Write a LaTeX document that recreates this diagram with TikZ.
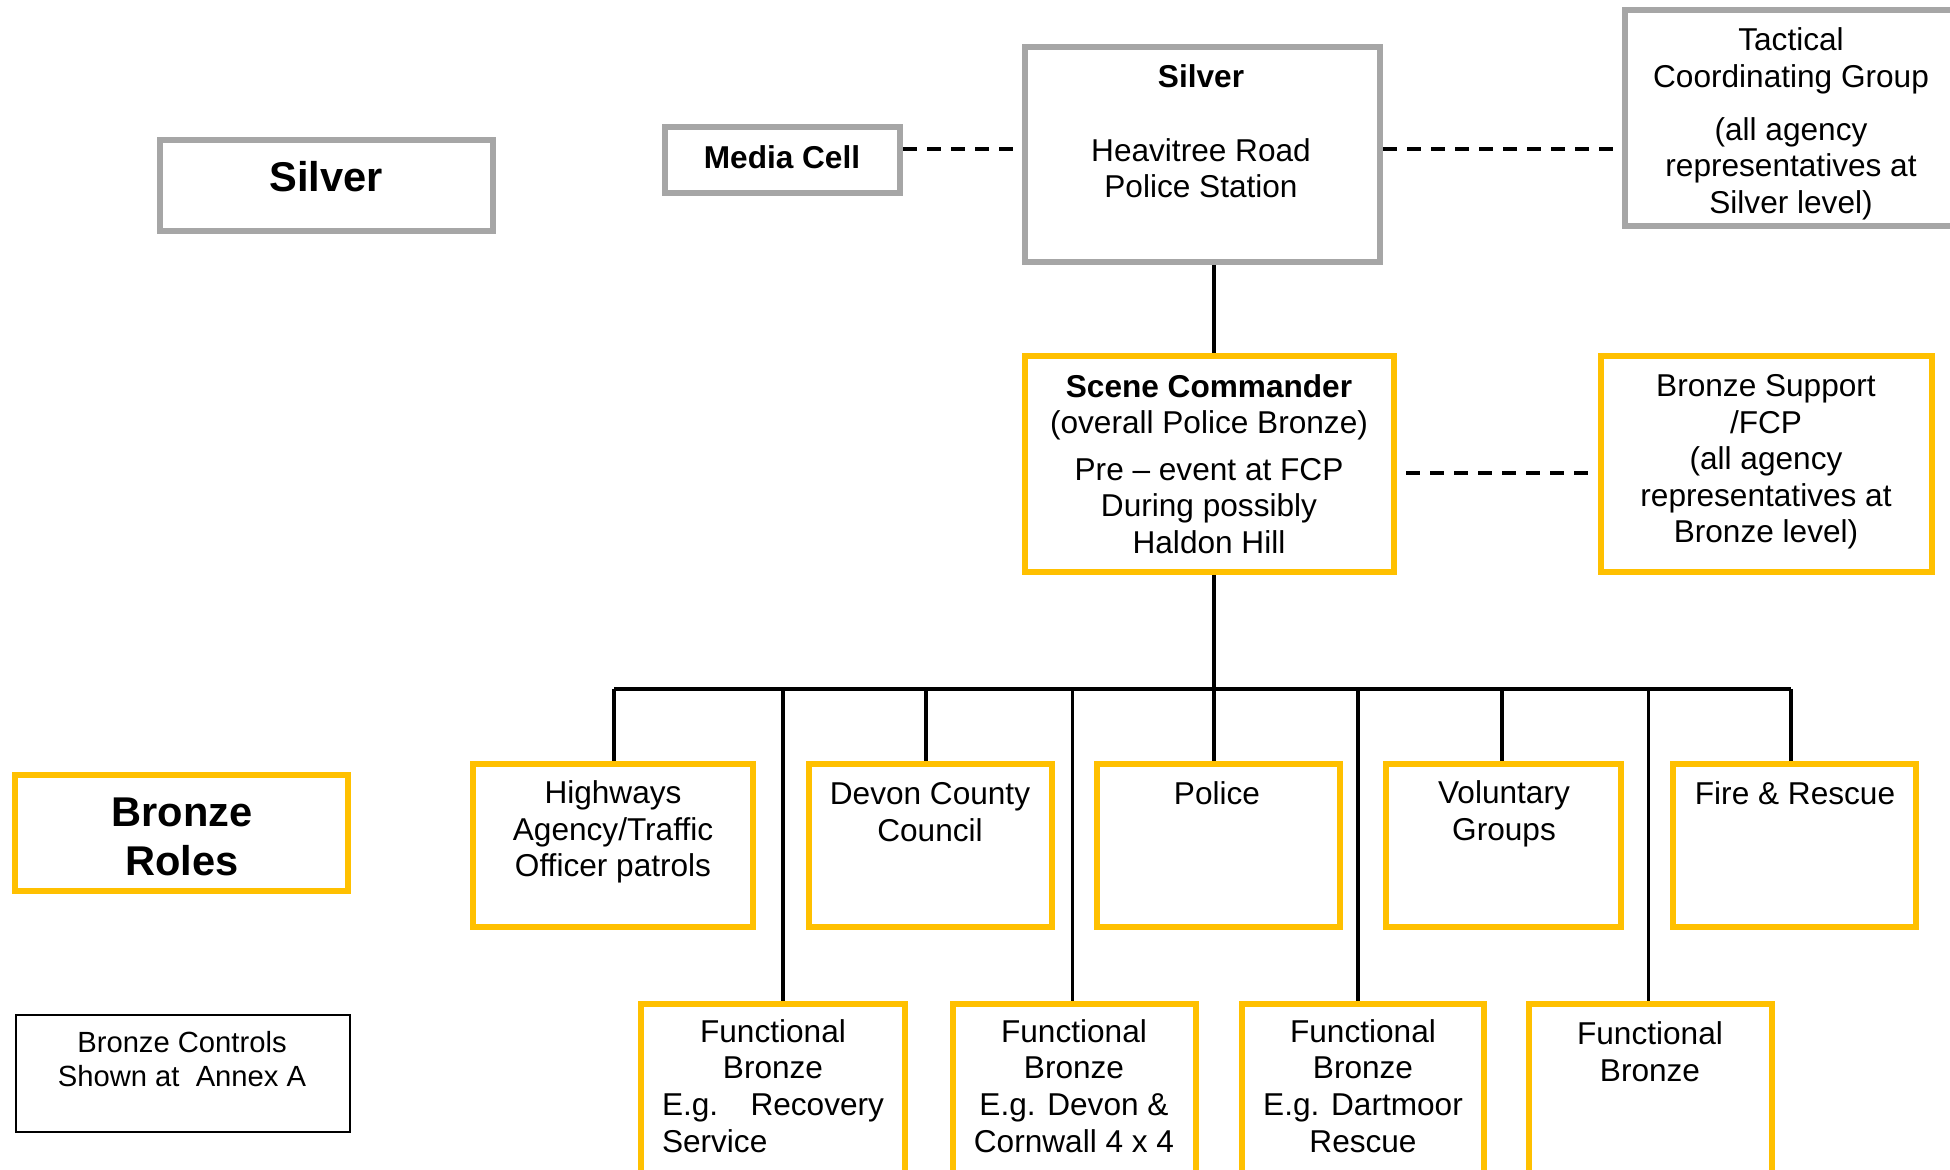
\documentclass[tikz,border=0pt]{standalone}
\usepackage{fontspec}
\setmainfont{Liberation Sans}
\definecolor{silvergray}{HTML}{A6A6A6}
\definecolor{bronzeyellow}{HTML}{FFC000}
\tikzset{
  greybox/.style={draw=silvergray, line width=3pt, inner sep=0pt},
  goldbox/.style={draw=bronzeyellow, line width=3pt, inner sep=0pt},
  plainbox/.style={draw=black, line width=1pt, inner sep=0pt},
  txt/.style={align=center, inner sep=0pt, font=\fontsize{15.8}{18.3}\selectfont},
  smalltxt/.style={align=center, inner sep=0pt, font=\fontsize{14.6}{17}\selectfont},
  bigtxt/.style={align=center, inner sep=0pt, font=\fontsize{20.8}{24.5}\selectfont\bfseries},
  link/.style={draw=black, line width=1.6pt},
  dashlink/.style={draw=black, line width=2pt, dash pattern=on 7pt off 5pt}
}

\begin{document}
\begin{tikzpicture}[x=0.5pt, y=-0.5pt]
    \useasboundingbox (0,0) rectangle (1950,1170);
    \node[greybox, minimum width=166.5pt, minimum height=45.5pt] (silverlbl) at (326.5,185.5) {};
    \node[greybox, minimum width=117.5pt, minimum height=33pt] (media) at (782.5,160) {};
    \node[greybox, minimum width=177.5pt, minimum height=107.5pt] (silver) at (1202.5,154.5) {};
    \node[greybox, minimum width=166pt, minimum height=108pt] (tcg) at (1791,118) {};
    \node[goldbox, minimum width=184.5pt, minimum height=108pt] (scene) at (1209.5,464) {};
    \node[goldbox, minimum width=165.5pt, minimum height=108pt] (support) at (1766.5,464) {};
    \node[goldbox, minimum width=166.5pt, minimum height=58pt] (roles) at (181.5,833) {};
    \node[plainbox, minimum width=167pt, minimum height=58.5pt] (controls) at (183,1073.5) {};
    \node[goldbox, minimum width=140pt, minimum height=81.5pt] (highways) at (613,845.5) {};
    \node[goldbox, minimum width=121.5pt, minimum height=81.5pt] (devon) at (930.5,845.5) {};
    \node[goldbox, minimum width=121.5pt, minimum height=81.5pt] (police) at (1218.5,845.5) {};
    \node[goldbox, minimum width=117.5pt, minimum height=81.5pt] (voluntary) at (1503.5,845.5) {};
    \node[goldbox, minimum width=121.5pt, minimum height=81.5pt] (fire) at (1794.5,845.5) {};
    \node[goldbox, minimum width=132pt, minimum height=90.5pt] (fb1) at (773,1094.5) {};
    \node[goldbox, minimum width=121.5pt, minimum height=90.5pt] (fb2) at (1074.5,1094.5) {};
    \node[goldbox, minimum width=121pt, minimum height=90.5pt] (fb3) at (1363,1094.5) {};
    \node[goldbox, minimum width=121.5pt, minimum height=90.5pt] (fb4) at (1650.5,1094.5) {};

    \node[bigtxt] (silverlbl-t) at (326,177) {Silver};
    \node[txt] (media-t) at (782,157) {\textbf{Media Cell}};
    \node[txt] (silver-t) at (1201,131.5) {\textbf{Silver}\\[18.3pt]Heavitree Road\\Police Station};
    \node[txt] (tcg-t) at (1791,124) {Tactical\\Coordinating Group\\[8pt](all agency\\representatives at\\Silver level)};
    \node[txt] (scene-t) at (1209,464) {\textbf{Scene Commander}\\(overall Police Bronze)\\[5pt]Pre -- event at FCP\\During possibly\\Haldon Hill};
    \node[txt] (support-t) at (1766,462) {Bronze Support\\/FCP\\(all agency\\representatives at\\Bronze level)};
    \node[bigtxt] (roles-t) at (182,836.5) {Bronze\\Roles};
    \node[smalltxt] (controls-t) at (182,1059) {Bronze Controls\\Shown at~ Annex A};
    \node[txt] (highways-t) at (613,832) {Highways\\Agency/Traffic\\Officer patrols};
    \node[txt] (devon-t) at (930,812) {Devon County\\Council};
    \node[txt] (police-t) at (1217,793) {Police};
    \node[txt] (voluntary-t) at (1504,814) {Voluntary\\Groups};
    \node[txt] (fire-t) at (1795,793) {Fire \& Rescue};
    \node[txt] (fb1-t) at (773,1086) {Functional\\Bronze\\\makebox[111pt]{E.g.\hfill Recovery}\\\makebox[111pt][l]{Service}};
    \node[txt] (fb2-t) at (1074,1086) {Functional\\Bronze\\E.g. Devon \&\\Cornwall 4 x 4};
    \node[txt] (fb3-t) at (1363,1086) {Functional\\Bronze\\E.g. Dartmoor\\Rescue};
    \node[txt] (fb4-t) at (1650,1051.5) {Functional\\Bronze};

    \coordinate (spine) at (1214,689);
    \coordinate (mline) at (0,149);
    \coordinate (bline) at (0,473);
    \draw[dashlink] (media.east |- mline) -- (silver.west |- mline);
    \draw[dashlink] (silver.east |- mline) -- (tcg.west |- mline);
    \draw[dashlink] ([xshift=4.5pt]scene.east |- bline) -- ([xshift=-4.5pt]support.west |- bline);
    \draw[link] (spine |- silver.south) -- (spine |- scene.north);
    \draw[link] (spine |- scene.south) -- (spine);
    \draw[link] ([xshift=0.5pt]highways.north |- spine) -- ([xshift=-1.75pt]fire.north |- spine);
    \foreach \b/\s in {highways/0.5pt, devon/-2.25pt, police/-2.25pt, voluntary/-0.75pt, fire/-1.75pt}
        \draw[link] ([xshift=\s]\b.north |- spine) -- ([xshift=\s]\b.north);
    \foreach \b/\s in {fb1/5pt, fb2/-1pt, fb3/-2.5pt, fb4/-1pt}
        \draw[link] ([xshift=\s]\b.north |- spine) -- ([xshift=\s]\b.north);
\end{tikzpicture}
\end{document}
